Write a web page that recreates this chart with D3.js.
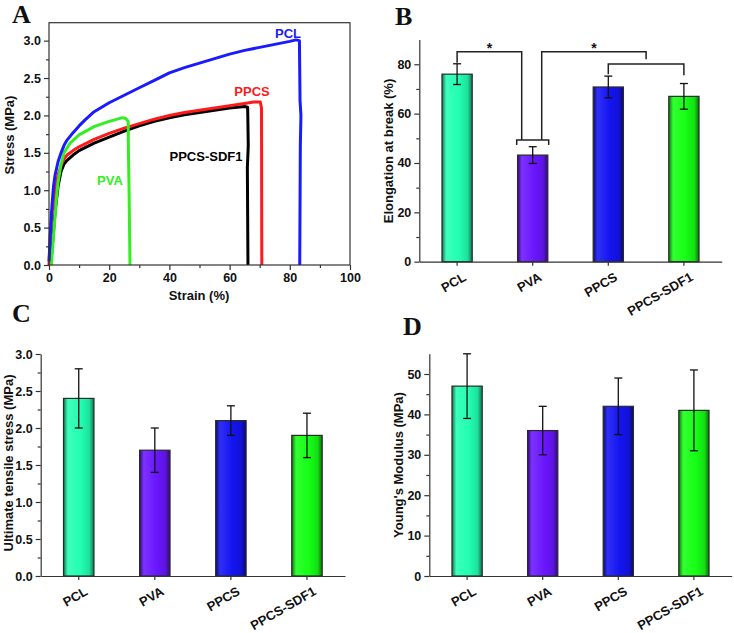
<!DOCTYPE html>
<html><head><meta charset="utf-8">
<script src="https://cdn.jsdelivr.net/npm/d3@7"></script>
<style>body{margin:0;background:#fff} svg{display:block}</style>
</head><body><svg id="c" width="734" height="633"></svg>
<script>
// ---------- DATA ----------
const categories = ["PCL", "PVA", "PPCS", "PPCS-SDF1"];
const elongation = [76, 43.2, 70.8, 67];
const elongationErr = [4.2, 3.4, 4.4, 5.2];
const uts = [2.4, 1.7, 2.1, 1.9];
const utsErr = [0.4, 0.3, 0.2, 0.3];
const modulus = [47, 36, 42, 41];
const modulusErr = [8, 6, 7, 10];
const barColors = ["#22ffb2", "#6a16ff", "#1414f2", "#16ff16"];

const curveNames = ["PPCS-SDF1", "PPCS", "PVA", "PCL"];
const curveColors = ["#000000", "#ff1a1a", "#33ee22", "#1a1aff"];
const sdfCurve = [[0.5,0],[1,0.2],[2,0.7],[3,1.05],[4,1.25],[5,1.35],[6,1.4],[8,1.47],[10,1.53],[15,1.63],[20,1.71],[25,1.79],[30,1.86],[35,1.92],[40,1.97],[45,2.01],[50,2.04],[55,2.07],[60,2.1],[65,2.12],[66,2.11],[66.2,1.6],[65.9,1.3],[66.1,0]];
const ppcsCurve = [[0,0],[0.5,0.45],[1,0.7],[2,1.0],[3,1.2],[4,1.33],[5,1.42],[6,1.47],[8,1.53],[10,1.58],[15,1.68],[20,1.76],[25,1.83],[30,1.89],[35,1.95],[40,2.0],[45,2.04],[50,2.07],[55,2.1],[60,2.13],[65,2.16],[68,2.18],[70.2,2.18],[70.6,2.1],[70.7,0]];
const pvaCurve = [[0.8,0],[1.5,0.4],[2,0.65],[2.5,0.9],[3,1.1],[4,1.35],[5,1.5],[7,1.63],[10,1.74],[15,1.85],[20,1.92],[24.5,1.97],[25.5,1.96],[26.3,1.92],[26.4,1.5],[26.6,1.0],[26.9,0]];
const pclCurve = [[0,0.05],[0.5,0.45],[1,0.8],[1.5,1.05],[2,1.2],[3,1.38],[4,1.5],[5,1.6],[6,1.67],[8,1.77],[10,1.86],[12,1.94],[15,2.05],[20,2.17],[25,2.27],[30,2.37],[35,2.47],[40,2.57],[45,2.64],[50,2.7],[55,2.76],[60,2.82],[65,2.87],[70,2.91],[75,2.95],[80,2.99],[82,3.01],[83.2,3.0],[83.4,2.2],[83.7,2.0],[83.5,1.6],[83.3,0]];
const curves = [sdfCurve, ppcsCurve, pvaCurve, pclCurve];

const strainTicks = [0, 20, 40, 60, 80, 100];
const stressTicks = [0, 0.5, 1.0, 1.5, 2.0, 2.5, 3.0];

// ---------- DRAW ----------
const svg = d3.select("#c");
const FONT = "'Liberation Sans', Arial, Helvetica, sans-serif";
const AX = "#333";

function styleAxis(g, fs) {
  g.select(".domain").attr("stroke", AX).attr("stroke-width", 1.2);
  g.selectAll(".tick line").attr("stroke", AX).attr("stroke-width", 1.2);
  g.selectAll("text").attr("font-family", FONT).attr("font-weight", "bold")
    .attr("font-size", fs || 12.5).attr("fill", "#111");
}
function panelLetter(t, x, y) {
  svg.append("text").text(t).attr("x", x).attr("y", y)
    .attr("font-family", "'Liberation Serif', 'Times New Roman', serif")
    .attr("font-weight", "bold").attr("font-size", 26).attr("fill", "#111");
}
function yTitle(t, x, y) {
  svg.append("text").text(t)
    .attr("transform", `translate(${x},${y}) rotate(-90)`)
    .attr("text-anchor", "middle").attr("dy", "0.35em")
    .attr("font-family", FONT).attr("font-weight", "bold").attr("font-size", 13).attr("fill", "#111");
}

// ----- Panel A -----
(function () {
  const L = 49, R = 350, T = 22.7, B = 265;
  const x = d3.scaleLinear().domain([0, 100]).range([L, R]);
  const y = d3.scaleLinear().domain([0, 3.24]).range([B, T]);
  const line = d3.line().x(d => x(d[0])).y(d => y(d[1])).curve(d3.curveMonotoneX);
  const lineRaw = d3.line().x(d => x(d[0])).y(d => y(d[1]));
  curves.forEach((c, i) => {
    svg.append("path").datum(c).attr("d", lineRaw).attr("fill", "none")
      .attr("stroke", curveColors[i]).attr("stroke-width", 3).attr("stroke-linejoin", "round");
  });
  svg.append("rect").attr("x", L).attr("y", T).attr("width", R - L).attr("height", B - T)
    .attr("fill", "none").attr("stroke", AX).attr("stroke-width", 1.2);
  const gx = svg.append("g").attr("transform", `translate(0,${B})`)
    .call(d3.axisBottom(x).tickValues(strainTicks).tickFormat(d3.format("d")).tickSize(5).tickSizeOuter(0).tickPadding(3));
  styleAxis(gx);
  const gxm = svg.append("g").attr("transform", `translate(0,${B})`)
    .call(d3.axisBottom(x).tickValues([10, 30, 50, 70, 90]).tickFormat("").tickSize(3).tickSizeOuter(0));
  styleAxis(gxm);
  const gy = svg.append("g").attr("transform", `translate(${L},0)`)
    .call(d3.axisLeft(y).tickValues(stressTicks).tickFormat(d3.format(".1f")).tickSize(5).tickSizeOuter(0).tickPadding(3));
  styleAxis(gy);
  const gym = svg.append("g").attr("transform", `translate(${L},0)`)
    .call(d3.axisLeft(y).tickValues([0.25, 0.75, 1.25, 1.75, 2.25, 2.75]).tickFormat("").tickSize(3).tickSizeOuter(0));
  styleAxis(gym);
  gx.select(".domain").remove(); gxm.select(".domain").remove();
  gy.select(".domain").remove(); gym.select(".domain").remove();

  // curve labels
  const labPos = [[206, 156], [252, 91], [110, 180], [288, 33]];
  curveNames.forEach((n, i) => {
    svg.append("text").text(n).attr("x", labPos[i][0]).attr("y", labPos[i][1]).attr("dy", "0.35em")
      .attr("text-anchor", "middle").attr("font-family", FONT).attr("font-weight", "bold")
      .attr("font-size", 13).attr("fill", curveColors[i]);
  });
  svg.append("text").text("Strain (%)").attr("x", 199).attr("y", 300)
    .attr("text-anchor", "middle").attr("font-family", FONT).attr("font-weight", "bold")
    .attr("font-size", 13).attr("fill", "#111");
  yTitle("Stress (MPa)", 9.5, 135);
  panelLetter("A", 12, 23);
})();

// gradients for bars
const defs = svg.append("defs");
barColors.forEach((c, i) => {
  const base = d3.color(c);
  const g = defs.append("linearGradient").attr("id", "grad" + i)
    .attr("x1", "0%").attr("x2", "100%").attr("y1", "0%").attr("y2", "0%");
  const dark = d3.interpolateRgb(c, "#000")(0.55);
  const light = d3.interpolateRgb(c, "#fff")(0.12);
  const mid = d3.interpolateRgb(c, "#000")(0.12);
  [[0, dark], [0.14, light], [0.55, base.formatHex()], [0.85, mid], [1, dark]].forEach(s =>
    g.append("stop").attr("offset", s[0]).attr("stop-color", s[1]));
});

function barPanel(o) {
  const x = d3.scaleBand().domain(categories).range([o.L, o.R]).paddingInner(0.6).paddingOuter(0.3);
  const y = d3.scaleLinear().domain(o.domain).range([o.B, o.T]);
  const bw = x.bandwidth();
  svg.append("g").selectAll("rect").data(categories).join("rect")
    .attr("x", d => x(d)).attr("width", bw)
    .attr("y", (d, i) => y(o.values[i])).attr("height", (d, i) => y(0) - y(o.values[i]))
    .attr("fill", (d, i) => `url(#grad${i})`).attr("stroke", "#2a2a2a").attr("stroke-width", 1.2);
  // error bars
  const cap = 4;
  categories.forEach((d, i) => {
    const cx = x(d) + bw / 2;
    const hi = y(o.values[i] + o.errs[i]), lo = y(o.values[i] - o.errs[i]);
    const g = svg.append("g").attr("stroke", "#111").attr("stroke-width", 1.3);
    g.append("line").attr("x1", cx).attr("x2", cx).attr("y1", hi).attr("y2", lo);
    g.append("line").attr("x1", cx - cap).attr("x2", cx + cap).attr("y1", hi).attr("y2", hi);
    g.append("line").attr("x1", cx - cap).attr("x2", cx + cap).attr("y1", lo).attr("y2", lo);
  });
  const gx = svg.append("g").attr("transform", `translate(0,${o.B})`)
    .call(d3.axisBottom(x).tickSize(4).tickSizeOuter(0));
  styleAxis(gx, 13);
  gx.selectAll("text").attr("x", 0).attr("y", 0).attr("dy", null)
    .attr("transform", "translate(10,18) rotate(-30)").style("text-anchor", "end");
  const gy = svg.append("g").attr("transform", `translate(${o.L},0)`)
    .call(d3.axisLeft(y).tickValues(o.ticks).tickFormat(o.fmt).tickSize(5).tickSizeOuter(0).tickPadding(3));
  styleAxis(gy);
  const gym = svg.append("g").attr("transform", `translate(${o.L},0)`)
    .call(d3.axisLeft(y).tickValues(o.minor).tickFormat("").tickSize(3).tickSizeOuter(0));
  styleAxis(gym);
  gym.select(".domain").remove();
  yTitle(o.title, o.titleX, o.titleY);
  return { x, y, bw };
}

// ----- Panel B -----
(function () {
  const p = barPanel({
    L: 419.3, R: 721.7, T: 39.6, B: 261.7, domain: [0, 90],
    values: elongation, errs: elongationErr,
    ticks: [0, 20, 40, 60, 80], minor: [10, 30, 50, 70], fmt: d3.format("d"),
    title: "Elongation at break (%)", titleX: 388, titleY: 151
  });
  const { x, y, bw } = p;
  const c = d => x(d) + bw / 2;
  const g = svg.append("g").attr("fill", "none").attr("stroke", "#222").attr("stroke-width", 1.5);
  const top = y(85.1), pvaBr = y(49.3);
  const pvaL = c("PVA") - 16, pvaR = c("PVA") + 16;
  g.append("path").attr("d", `M${pvaL},${y(47.3)}V${pvaBr}H${pvaR}V${y(47.3)}`);
  g.append("path").attr("d", `M${c("PCL")},${y(80.6)}V${top}H${pvaL + 5}V${pvaBr}`);
  const b3 = y(80.1);
  g.append("path").attr("d", `M${c("PPCS")},${y(76)}V${b3}H${c("PPCS-SDF1")}V${y(75.6)}`);
  const mid = (c("PPCS") + c("PPCS-SDF1")) / 2;
  g.append("path").attr("d", `M${pvaR - 7},${pvaBr}V${top}H${mid}V${y(82)}`);
  [(c("PCL") + pvaL + 5) / 2, (pvaR - 7 + mid) / 2].forEach(sx => {
    svg.append("text").text("*").attr("x", sx).attr("y", top + 1).attr("text-anchor", "middle")
      .attr("font-family", FONT).attr("font-weight", "bold").attr("font-size", 14).attr("fill", "#111");
  });
  panelLetter("B", 395, 25);
})();

// ----- Panel C -----
(function () {
  barPanel({
    L: 40.7, R: 345, T: 354, B: 576, domain: [0, 3],
    values: uts, errs: utsErr,
    ticks: [0, 0.5, 1.0, 1.5, 2.0, 2.5, 3.0], minor: [0.25, 0.75, 1.25, 1.75, 2.25, 2.75], fmt: d3.format(".1f"),
    title: "Ultimate tensile stress (MPa)", titleX: 8.5, titleY: 463
  });
  panelLetter("C", 12, 322);
})();

// ----- Panel D -----
(function () {
  barPanel({
    L: 429.3, R: 731.7, T: 353.8, B: 576, domain: [0, 55],
    values: modulus, errs: modulusErr,
    ticks: [0, 10, 20, 30, 40, 50], minor: [5, 15, 25, 35, 45], fmt: d3.format("d"),
    title: "Young's Modulus (MPa)", titleX: 398, titleY: 465
  });
  panelLetter("D", 403, 335);
})();
</script></body></html>
